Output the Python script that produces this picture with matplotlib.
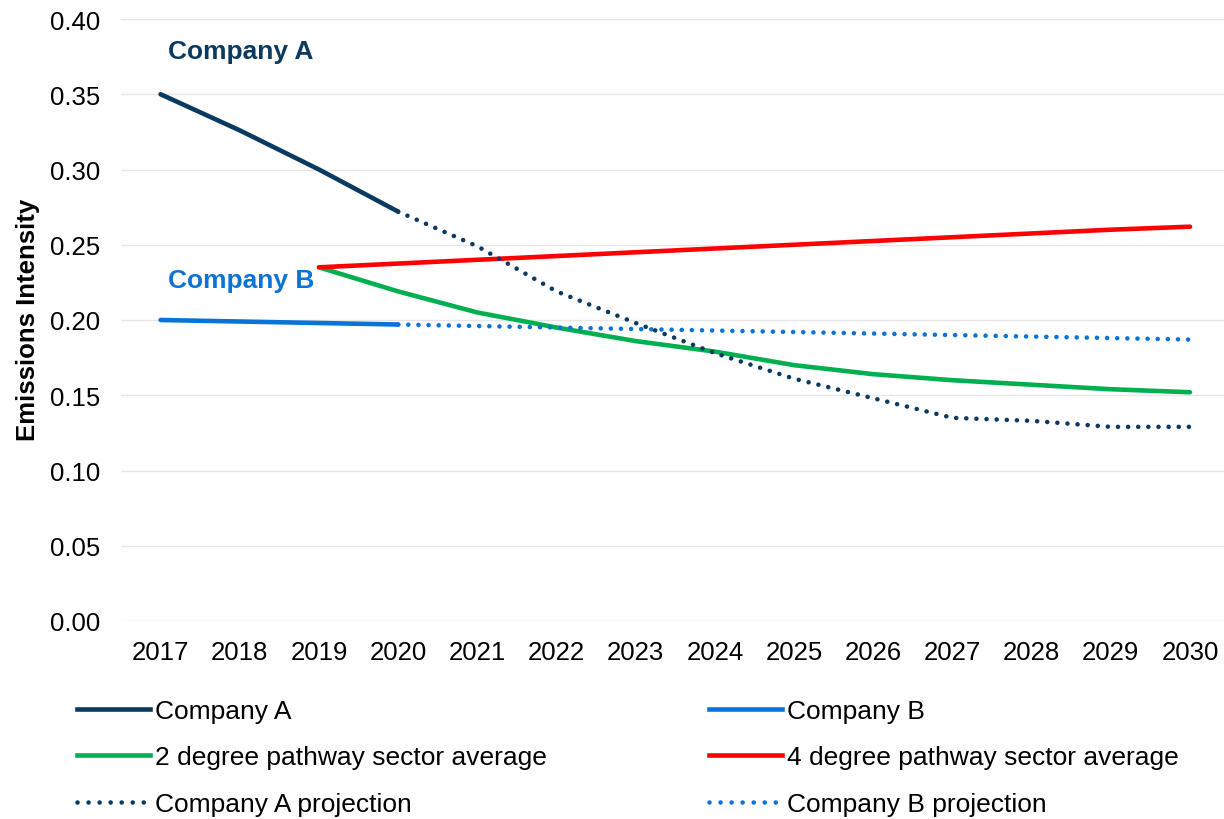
import matplotlib
matplotlib.use("Agg")
import matplotlib.pyplot as plt
from matplotlib.lines import Line2D

years = [str(y) for y in range(2017, 2031)]
company_a = [0.350, 0.326, 0.300, 0.272]
company_a_proj = [0.272, 0.249, 0.219, 0.198, 0.178, 0.161, 0.148, 0.135, 0.133, 0.129, 0.129]
company_b = [0.200, 0.199, 0.198, 0.197]
company_b_proj = [0.197, 0.196, 0.195, 0.194, 0.193, 0.192, 0.191, 0.190, 0.189, 0.188, 0.187]
deg2 = [0.235, 0.219, 0.205, 0.195, 0.186, 0.179, 0.170, 0.164, 0.160, 0.157, 0.154, 0.152]
deg4 = [0.235, 0.2375, 0.240, 0.2425, 0.245, 0.2475, 0.250, 0.2525, 0.255, 0.2575, 0.260, 0.262]
yticks = [0.00, 0.05, 0.10, 0.15, 0.20, 0.25, 0.30, 0.35, 0.40]

NAVY = "#0B3A60"
BLUE = "#0A74D6"
GREEN = "#00B050"
RED = "#FF0000"

plt.rcParams['font.family'] = ['Liberation Sans', 'DejaVu Sans']
FS = 18.5
LFS = 19

fig = plt.figure(figsize=(12.24, 8.20), dpi=100)
ax = fig.add_axes([121/1224, (820-622)/820, (1224-121)/1224, 602/820])

x = list(range(len(years)))
lw = 3.3
dot = (0, (0.01, 2.2))
ax.plot(x[0:4], company_a, color=NAVY, lw=lw, solid_capstyle='round', zorder=3)
ax.plot(x[0:4], company_b, color=BLUE, lw=lw, solid_capstyle='round', zorder=3)
ax.plot(x[2:], deg2, color=GREEN, lw=lw, solid_capstyle='round', zorder=3)
ax.plot(x[2:], deg4, color=RED, lw=lw, solid_capstyle='round', zorder=3)
ax.plot(x[3:], company_a_proj, color=NAVY, lw=lw, linestyle=dot, dash_capstyle='round', zorder=4)
ax.plot(x[3:], company_b_proj, color=BLUE, lw=lw, linestyle=dot, dash_capstyle='round', zorder=3)

ax.set_xlim(-0.5, 13 + (1224-1190)/79.2)
ax.set_ylim(0, 0.40)
ax.set_yticks(yticks)
ax.set_yticklabels([f"{v:.2f}" for v in yticks], fontsize=FS)
ax.set_xticks(x)
ax.set_xticklabels(years, fontsize=FS)
ax.tick_params(length=0)
ax.tick_params(axis='x', pad=14)
ax.tick_params(axis='y', pad=15)
ax.grid(axis='y', color='#E6E6E6', lw=1)
ax.set_axisbelow(True)
for s in ax.spines.values():
    s.set_visible(False)

fig.text(28/1224, (820-320)/820, "Emissions Intensity", rotation=90, fontsize=FS,
         fontweight='bold', ha='center', va='center')

ax.text(0.09, 0.379, "Company A", color=NAVY, fontsize=19, fontweight='bold', va='center', ha='left')
ax.text(0.09, 0.2265, "Company B", color=BLUE, fontsize=19, fontweight='bold', va='center', ha='left')

ldot = (0, (0.01, 2.4))
h_left = [
    Line2D([], [], color=NAVY, lw=lw),
    Line2D([], [], color=GREEN, lw=lw),
    Line2D([], [], color=NAVY, lw=lw, linestyle=ldot, dash_capstyle='round'),
]
h_right = [
    Line2D([], [], color=BLUE, lw=lw),
    Line2D([], [], color=RED, lw=lw),
    Line2D([], [], color=BLUE, lw=lw, linestyle=ldot, dash_capstyle='round'),
]
l_left = ["Company A", "2 degree pathway sector average", "Company A projection"]
l_right = ["Company B", "4 degree pathway sector average", "Company B projection"]
kw = dict(loc='upper left', frameon=False, fontsize=LFS, handlelength=2.75, handletextpad=0.2,
          labelspacing=0.85, borderaxespad=0, borderpad=0)
fig.legend(h_left, l_left, bbox_to_anchor=(77/1224, (820-700)/820), **kw)
fig.legend(h_right, l_right, bbox_to_anchor=(709/1224, (820-700)/820), **kw)

fig.savefig("out.png", dpi=100)
